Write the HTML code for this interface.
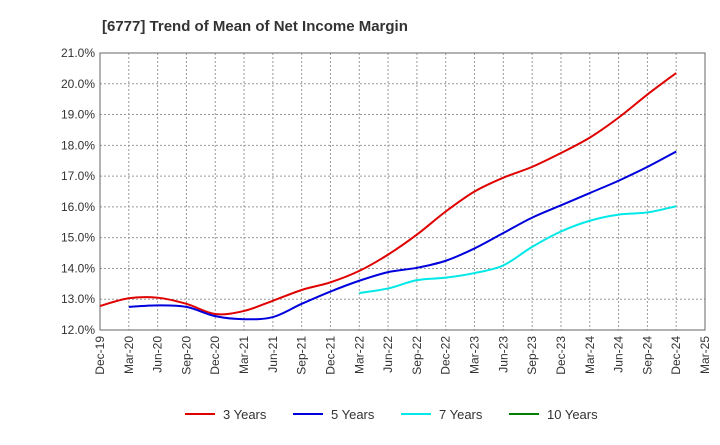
<!DOCTYPE html>
<html><head><meta charset="utf-8"><style>
body{margin:0;background:#fff;font-family:"Liberation Sans",sans-serif}
</style></head><body>
<svg id="c" width="720" height="440" xmlns="http://www.w3.org/2000/svg">
<text x="102" y="31" font-size="15" font-weight="bold" fill="#333">[6777]  Trend of Mean of Net Income Margin</text>
<g id="grid"></g><g id="axes"></g><g id="series"></g><g id="legend"></g>
</svg>
<script>
const categories=["Dec-19","Mar-20","Jun-20","Sep-20","Dec-20","Mar-21","Jun-21","Sep-21","Dec-21","Mar-22","Jun-22","Sep-22","Dec-22","Mar-23","Jun-23","Sep-23","Dec-23","Mar-24","Jun-24","Sep-24","Dec-24","Mar-25"];
const yTicks=[12,13,14,15,16,17,18,19,20,21];
const s3=[12.78,13.03,13.05,12.85,12.52,12.62,12.95,13.3,13.55,13.92,14.45,15.1,15.85,16.5,16.95,17.3,17.75,18.25,18.9,19.65,20.35];
const s5=[null,12.75,12.8,12.75,12.45,12.35,12.42,12.85,13.25,13.6,13.88,14.02,14.25,14.65,15.15,15.65,16.05,16.45,16.85,17.3,17.8];
const s7=[null,null,null,null,null,null,null,null,null,13.2,13.35,13.62,13.7,13.85,14.1,14.7,15.2,15.55,15.75,15.82,16.02];
const s10=[];
const seriesNames=["3 Years","5 Years","7 Years","10 Years"];
const colors=["#e00000","#0000dd","#00e8e8","#008000"];
const NS="http://www.w3.org/2000/svg";
const L=100,R=705,T=53,B=330;
const x=i=>L+(R-L)*i/(categories.length-1);
const y=v=>B-(B-T)*(v-12)/9;
function mk(t,a,p){const e=document.createElementNS(NS,t);for(const k in a)e.setAttribute(k,a[k]);p.appendChild(e);return e;}
const g=document.getElementById('grid'),ax=document.getElementById('axes'),se=document.getElementById('series'),lg=document.getElementById('legend');
yTicks.forEach(v=>{
 const l=mk('line',{x1:L,x2:R,y1:y(v),y2:y(v),stroke:'#999','stroke-dasharray':'2,2','stroke-width':1},g);
 
 
 const t=mk('text',{x:L-5,y:y(v)+4,'text-anchor':'end','font-size':12,fill:'#333'},ax);
 t.textContent=v.toFixed(1)+'%';
 
 
});
categories.forEach((c,i)=>{
 const l=mk('line',{x1:x(i),x2:x(i),y1:T,y2:B,stroke:'#999','stroke-dasharray':'2,2','stroke-width':1},g);
 
 
 const t=mk('text',{x:0,y:0,'text-anchor':'end','font-size':12,fill:'#333',transform:`translate(${x(i)+4},${B+6}) rotate(-90)`},ax);
 t.textContent=c;
 
 
});
const fr=mk('rect',{x:L,y:T,width:R-L,height:B-T,fill:'none',stroke:'#666'},ax);


function path(arr){
 const p=[];arr.forEach((v,i)=>{if(v!=null)p.push([x(i),y(v)]);});
 if(p.length<2)return '';
 let d=`M${p[0][0]},${p[0][1]}`;
 for(let i=0;i<p.length-1;i++){
  const p0=p[i-1]||p[i],p1=p[i],p2=p[i+1],p3=p[i+2]||p2;
  d+=` C${p1[0]+(p2[0]-p0[0])/6},${p1[1]+(p2[1]-p0[1])/6} ${p2[0]-(p3[0]-p1[0])/6},${p2[1]-(p3[1]-p1[1])/6} ${p2[0]},${p2[1]}`;
 }
 return d;
}
[s3,s5,s7,s10].forEach((s,k)=>{
 const d=path(s);if(!d)return;
 const e=mk('path',{d:d,fill:'none',stroke:colors[k],'stroke-width':2},se);
 
 
});
const lx=[185,293,401,509];
seriesNames.forEach((n,k)=>{
 const gg=mk('g',{},lg);
 
 
 mk('line',{x1:lx[k],x2:lx[k]+30,y1:414,y2:414,stroke:colors[k],'stroke-width':2},gg);
 const t=mk('text',{x:lx[k]+38,y:419,'font-size':13,fill:'#333'},gg);
 t.textContent=n;
});
</script>
</body></html>
